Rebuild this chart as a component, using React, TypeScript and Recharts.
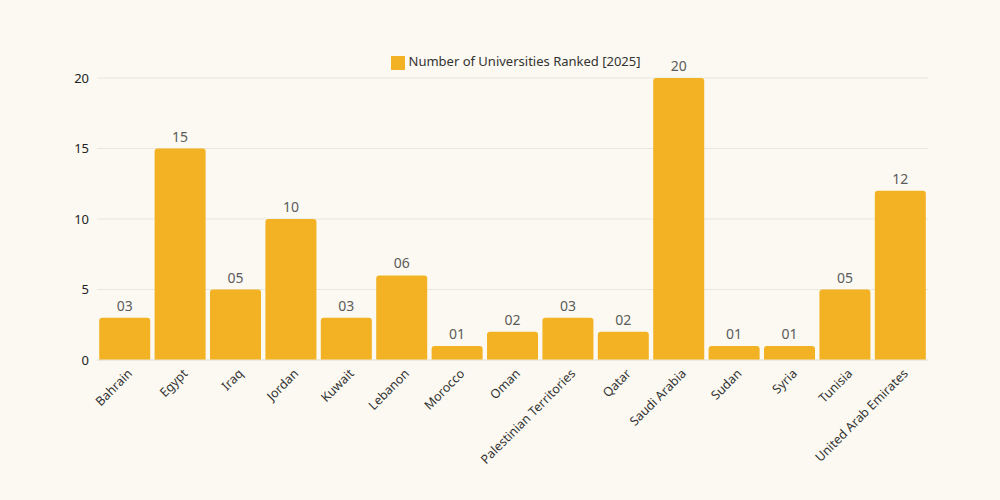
import { Bar, BarChart, CartesianGrid, LabelList, Legend, XAxis, YAxis } from 'recharts';

const countries = [
  'Bahrain', 'Egypt', 'Iraq', 'Jordan', 'Kuwait', 'Lebanon', 'Morocco', 'Oman',
  'Palestinian Territories', 'Qatar', 'Saudi Arabia', 'Sudan', 'Syria', 'Tunisia', 'United Arab Emirates',
];
const ranked = [3, 15, 5, 10, 3, 6, 1, 2, 3, 2, 20, 1, 1, 5, 12];
const yTicks = [0, 5, 10, 15, 20];

const data = countries.map((country, i) => ({ country, ranked: ranked[i] }));

const FONT = '"Noto Sans", "Open Sans", sans-serif';

function AngledTick({ x, y, payload }: any) {
  return (
    <text
      x={x + 6}
      y={y + 4}
      textAnchor="end"
      dominantBaseline="middle"
      transform={`rotate(-45, ${x + 6}, ${y + 4})`}
      fontSize={12.5}
      fill="#333"
      fontFamily={FONT}
    >
      {payload.value}
    </text>
  );
}

export default function App() {
  return (
    <div style={{ width: 1000, height: 500, background: '#fbf9f1', fontFamily: FONT }}>
      <style>{'body{margin:0}'}</style>
      <BarChart
        width={1000}
        height={500}
        data={data}
        margin={{ top: 52, right: 72, bottom: 12, left: 37 }}
        barCategoryGap="4%"
      >
        <CartesianGrid vertical={false} stroke="#e9e6db" />
        <XAxis
          dataKey="country"
          interval={0}
          tickLine={false}
          axisLine={{ stroke: '#e9e6db' }}
          tick={<AngledTick />}
          height={128}
        />
        <YAxis
          width={60}
          ticks={yTicks}
          domain={[0, 20]}
          tickLine={false}
          axisLine={false}
          tick={{ fontSize: 13, fill: '#222', fontFamily: FONT }}
        />
        <Legend
          verticalAlign="top"
          align="center"
          height={26}
          iconType="square"
          iconSize={14}
          wrapperStyle={{ fontSize: 13, fontFamily: FONT, left: 75 }}
          formatter={(v: string) => <span style={{ color: '#333' }}>{v}</span>}
        />
        <Bar
          dataKey="ranked"
          name="Number of Universities Ranked [2025]"
          fill="#f3b223"
          radius={[3, 3, 0, 0]}
          isAnimationActive={false}
        >
          <LabelList
            dataKey="ranked"
            position="top"
            offset={7}
            formatter={(v: any) => String(v).padStart(2, '0')}
            style={{ fontSize: 14, fill: '#5c5c5c', fontFamily: FONT }}
          />
        </Bar>
      </BarChart>
    </div>
  );
}
